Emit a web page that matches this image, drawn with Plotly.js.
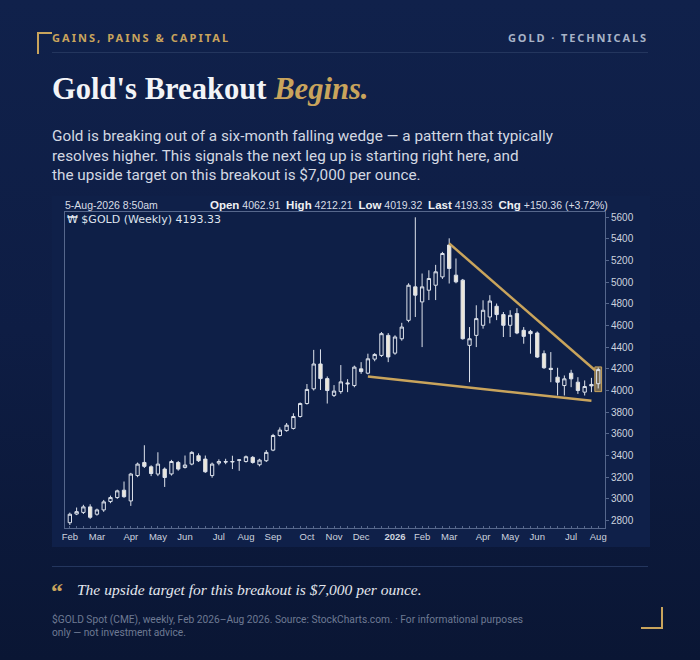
<!DOCTYPE html>
<html><head><meta charset="utf-8">
<script src="https://cdn.plot.ly/plotly-3.0.1.min.js"></script>
<style>
html,body{margin:0;padding:0;}
body{width:700px;height:660px;position:relative;overflow:hidden;background:linear-gradient(180deg,#10214b 0%,#0e1d44 50%,#0a1634 100%);font-family:Roboto,"Noto Sans",sans-serif;}
.abs{position:absolute;white-space:nowrap;}
#brand{left:52px;top:30px;font:700 11px "Noto Sans",sans-serif;letter-spacing:2.05px;color:#c9a45c;}
#tag{right:52px;top:30px;font:700 11px "Noto Sans",sans-serif;letter-spacing:1.9px;color:#a8b3c7;}
#rule1{left:52px;top:52px;width:596px;height:1px;background:#24365e;}
#rule2{left:52px;top:566px;width:596px;height:1px;background:#24365e;}
#tl{left:37px;top:32px;width:13px;height:20px;border-left:2px solid #c9a45c;border-top:2px solid #c9a45c;}
#br{left:641px;top:607px;width:20px;height:20px;border-right:2px solid #c9a45c;border-bottom:2px solid #c9a45c;}
#title{left:52px;top:72px;font:700 30.6px "Liberation Serif",serif;color:#f3f4f7;}
#title i{color:#c9a45c;}
#lede{left:52px;top:127px;font:15.3px Roboto,sans-serif;line-height:19.5px;color:#d3d8e2;}
#chart{left:52px;top:196px;width:598px;height:351px;}
#hdr1{left:65px;top:198.5px;font:10.5px "Liberation Sans",sans-serif;color:#d8dde6;}
#hdr2{left:210px;top:198.5px;font:10.5px "Liberation Sans",sans-serif;color:#d8dde6;}
#hdr2 b{font-size:11.5px;color:#eef0f4;}
#sym{left:67px;top:212.5px;font:11px "DejaVu Sans",sans-serif;color:#dfe4ee;}
#qmark{left:51px;top:578px;font:700 24px "Liberation Serif",serif;color:#c9a45c;}
#quote{left:77px;top:581px;font:italic 15.5px "Liberation Serif",serif;color:#e4e7ee;}
#foot{left:52px;top:613px;font:10.2px Roboto,sans-serif;line-height:13px;color:#6e7a93;}
</style></head>
<body>
<div id="tl" class="abs"></div>
<div id="brand" class="abs">GAINS, PAINS &amp; CAPITAL</div>
<div id="tag" class="abs">GOLD · TECHNICALS</div>
<div id="rule1" class="abs"></div>
<div id="title" class="abs">Gold's Breakout <i>Begins.</i></div>
<div id="lede" class="abs">Gold is breaking out of a six-month falling wedge — a pattern that typically<br>resolves higher. This signals the next leg up is starting right here, and<br>the upside target on this breakout is $7,000 per ounce.</div>
<div id="chart" class="abs"></div>
<div id="hdr1" class="abs">5-Aug-2026 8:50am</div>
<div id="hdr2" class="abs"><b>Open</b> 4062.91 &nbsp;<b>High</b> 4212.21 &nbsp;<b>Low</b> 4019.32 &nbsp;<b>Last</b> 4193.33 &nbsp;<b>Chg</b> +150.36 (+3.72%)</div>
<div id="sym" class="abs">₩ $GOLD (Weekly) 4193.33</div>
<div id="rule2" class="abs"></div>
<div id="qmark" class="abs">“</div>
<div id="quote" class="abs">The upside target for this breakout is $7,000 per ounce.</div>
<div id="foot" class="abs">$GOLD Spot (CME), weekly, Feb 2026–Aug 2026. Source: StockCharts.com. · For informational purposes<br>only — not investment advice.</div>
<div id="br" class="abs"></div>
<script>
const weeks = ['2025-02-03','2025-02-10','2025-02-17','2025-02-24','2025-03-03','2025-03-10','2025-03-17','2025-03-24','2025-03-31','2025-04-07',
'2025-04-14','2025-04-21','2025-04-28','2025-05-05','2025-05-12','2025-05-19','2025-05-26','2025-06-02','2025-06-09','2025-06-16',
'2025-06-23','2025-06-30','2025-07-07','2025-07-14','2025-07-21','2025-07-28','2025-08-04','2025-08-11','2025-08-18','2025-08-25',
'2025-09-01','2025-09-08','2025-09-15','2025-09-22','2025-09-29','2025-10-06','2025-10-13','2025-10-20','2025-10-27','2025-11-03',
'2025-11-10','2025-11-17','2025-11-24','2025-12-01','2025-12-08','2025-12-15','2025-12-22','2025-12-29','2026-01-05','2026-01-12',
'2026-01-19','2026-01-26','2026-02-02','2026-02-09','2026-02-16','2026-02-23','2026-03-02','2026-03-09','2026-03-16','2026-03-23',
'2026-03-30','2026-04-06','2026-04-13','2026-04-20','2026-04-27','2026-05-04','2026-05-11','2026-05-18','2026-05-25','2026-06-01',
'2026-06-08','2026-06-15','2026-06-22','2026-06-29','2026-07-06','2026-07-13','2026-07-20','2026-07-27','2026-08-03'];
const opens = [2780,2860,2875,2926,2858,2898,2975,3012,3080,2981,
3215,3336,3296,3229,3275,3230,3336,3290,3321,3398,
3367,3215,3330,3345,3340,3355,3345,3383,3315,3352,
3450,3585,3630,3650,3760,3880,4016,4245,4110,3955,
3990,4070,4046,4200,4160,4290,4324,4509,4345,4478,
4648,4957,4818,4926,4972,5049,5343,5065,5019,4417,
4509,4602,4679,4778,4701,4602,4710,4556,4546,4531,
4340,4205,4123,4046,4160,4077,3985,4056,4062.91];
const highs = [2873,2920,2945,2950,2910,2990,3030,3085,3160,3240,
3335,3495,3310,3430,3290,3360,3350,3400,3440,3420,
3400,3335,3365,3370,3398,3365,3400,3395,3370,3450,
3600,3660,3700,3790,3890,4060,4375,4380,4130,4050,
4235,4105,4230,4262,4340,4345,4540,4530,4510,4625,
4990,5599,5080,5110,5160,5280,5405,5219,5030,4586,
4787,4833,4880,4803,4725,4741,4760,4586,4560,4545,
4370,4355,4210,4139,4191,4123,4093,4117,4212.21];
const lows = [2759,2850,2860,2815,2845,2880,2960,3000,3010,2935,
3200,3285,3210,3210,3110,3215,3260,3280,3310,3340,
3240,3195,3310,3320,3275,3259,3335,3325,3300,3340,
3440,3575,3620,3640,3750,3870,4000,4005,3880,3940,
3970,3985,4030,4154,4150,4270,4310,4262,4330,4460,
4630,4679,4401,4835,4835,5030,4988,4990,4470,4077,
4401,4571,4620,4650,4494,4494,4520,4432,4340,4300,
4200,4077,3954,3954,4031,3969,3954,3985,4019.32];
const closes = [2858,2882,2926,2830,2898,2972,3012,3074,3020,3229,
3321,3300,3234,3321,3197,3345,3275,3312,3429,3352,
3250,3321,3345,3340,3345,3360,3389,3336,3358,3429,
3585,3635,3680,3760,3880,4010,4245,4110,4000,3995,
4080,4062,4216,4175,4293,4333,4525,4310,4494,4586,
4972,4880,4957,5034,5096,5265,5127,5003,4478,4478,
4664,4741,4826,4701,4602,4694,4531,4500,4525,4309,
4210,4195,4077,4108,4108,4000,4037,4043,4193.33];
const tickDates = ['2025-02-03','2025-03-03','2025-04-07','2025-05-05','2025-06-02','2025-07-07','2025-08-04','2025-09-01','2025-10-06','2025-11-03','2025-12-01','2026-01-05','2026-02-02','2026-03-02','2026-04-06','2026-05-04','2026-06-01','2026-07-06','2026-08-03'];
const tickLabels = ['Feb','Mar','Apr','May','Jun','Jul','Aug','Sep','Oct','Nov','Dec','<b>2026</b>','Feb','Mar','Apr','May','Jun','Jul','Aug'];
const priceTicks = [2800,3000,3200,3400,3600,3800,4000,4200,4400,4600,4800,5000,5200,5400,5600];
const wedgeUpperDates = ['2026-03-02','2026-07-31'];
const wedgeUpperPrices = [5358,4185];
const wedgeLowerDates = ['2025-12-08','2026-07-27'];
const wedgeLowerPrices = [4130,3905];
const highlightBox = {x0:'2026-07-30 12:00', x1:'2026-08-06 12:00', y0:3990, y1:4218};

const GOLD = '#c9a45c';
const CANDLE = '#dde2eb';
const traces = [
  {type:'candlestick', x:weeks, open:opens, high:highs, low:lows, close:closes,
   increasing:{line:{color:CANDLE,width:1}, fillcolor:'rgba(0,0,0,0)'},
   decreasing:{line:{color:CANDLE,width:1}, fillcolor:'#ece7da'},
   whiskerwidth:0, hoverinfo:'skip'},
  {type:'scatter', mode:'lines', x:wedgeUpperDates, y:wedgeUpperPrices, line:{color:GOLD,width:2.5}, hoverinfo:'skip'},
  {type:'scatter', mode:'lines', x:wedgeLowerDates, y:wedgeLowerPrices, line:{color:GOLD,width:2.5}, hoverinfo:'skip'}
];
const layout = {
  width:598, height:351,
  margin:{l:13,r:45,t:16,b:19},
  paper_bgcolor:'#0f2049', plot_bgcolor:'#0e1f47',
  showlegend:false,
  font:{family:'Liberation Sans, Arial, sans-serif', color:'#cdd3df'},
  xaxis:{type:'date', range:['2025-01-29','2026-08-10'], tickmode:'array', tickvals:tickDates, ticktext:tickLabels,
    tickfont:{size:9.5, color:'#cdd3df'}, tickangle:0, showgrid:false, zeroline:false,
    showline:true, linecolor:'#56678c', linewidth:1, mirror:true, ticks:'', rangeslider:{visible:false},
    minor:{dtick:7*86400000, tick0:'2025-02-03', ticks:'inside', ticklen:2, tickcolor:'#56678c', showgrid:false}},
  yaxis:{side:'right', range:[2731,5648], tickmode:'array', tickvals:priceTicks, ticktext:priceTicks.map(String),
    tickfont:{size:10, color:'#cdd3df'}, showgrid:false, zeroline:false,
    showline:true, linecolor:'#56678c', linewidth:1, mirror:true, ticks:'outside', ticklen:3, tickcolor:'#56678c'},
  shapes:[
    {type:'rect', xref:'x', yref:'y', x0:highlightBox.x0, x1:highlightBox.x1, y0:highlightBox.y0, y1:highlightBox.y1,
     fillcolor:'rgba(201,164,92,0.55)', line:{color:GOLD,width:1}, layer:'below'}
  ]
};
Plotly.newPlot('chart', traces, layout, {staticPlot:true, displayModeBar:false});
</script>
</body></html>
